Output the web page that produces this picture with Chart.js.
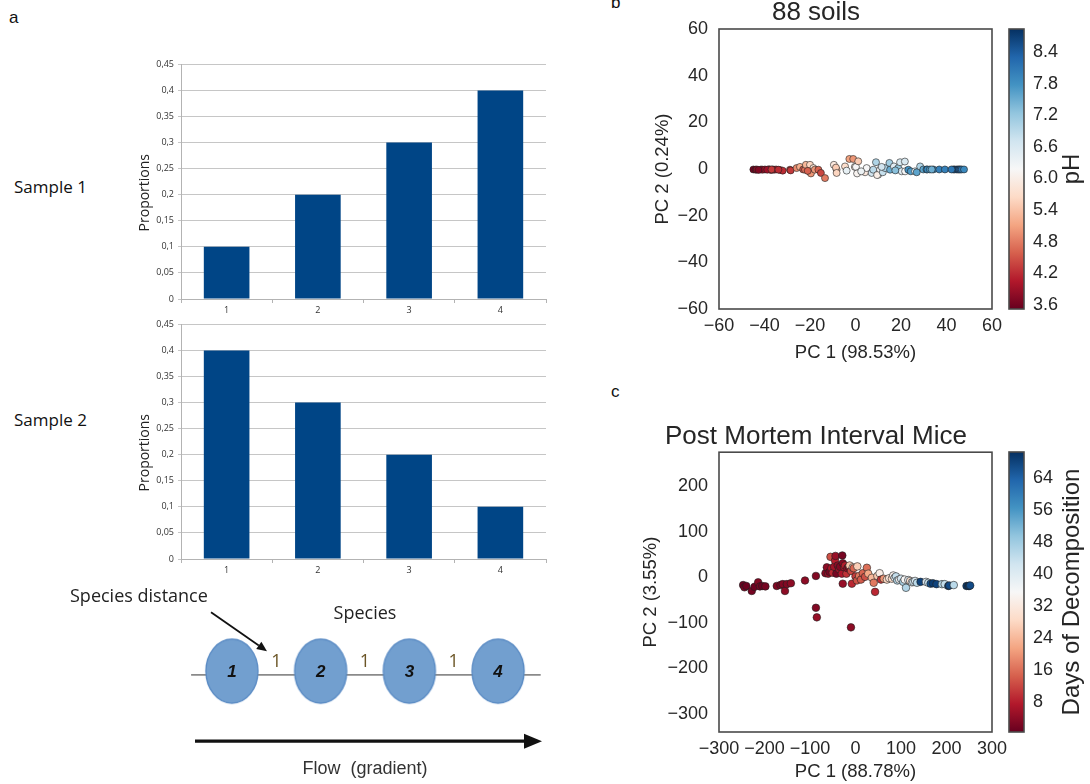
<!DOCTYPE html>
<html><head><meta charset="utf-8">
<script src="https://cdn.jsdelivr.net/npm/chart.js"></script>
<style>
html,body{margin:0;padding:0;background:#fff;}
body{width:1090px;height:784px;position:relative;overflow:hidden;font-family:"Liberation Sans",Arial,sans-serif;}
canvas{position:absolute;}
.lbl{position:absolute;white-space:nowrap;color:#111;line-height:1;}
</style></head><body>
<div class="lbl" style="left:9px;top:9px;font-size:17px;">a</div>
<div class="lbl" style="left:611px;top:-6px;font-size:17px;">b</div>
<div class="lbl" style="left:611px;top:383px;font-size:17px;">c</div>
<div class="lbl" style="left:14px;top:178px;font-size:17px;font-family:'Open Sans',sans-serif;">Sample 1</div>
<div class="lbl" style="left:14px;top:411px;font-size:17px;font-family:'Open Sans',sans-serif;">Sample 2</div>

<canvas id="barA" style="left:100px;top:55px" width="455" height="262"></canvas>
<canvas id="barB" style="left:100px;top:315px" width="455" height="262"></canvas>
<canvas id="diag" style="left:60px;top:585px" width="500" height="199"></canvas>
<canvas id="soils" style="left:640px;top:-10px" width="370" height="375"></canvas>
<canvas id="soilsCb" style="left:1000px;top:0px" width="90" height="365"></canvas>
<canvas id="mice" style="left:640px;top:405px" width="375" height="379"></canvas>
<canvas id="miceCb" style="left:1000px;top:405px" width="90" height="379"></canvas>

<script>
// ---------------- DATA ----------------
const speciesLabels = ['1','2','3','4'];
const sample1 = [0.1, 0.2, 0.3, 0.4];
const sample2 = [0.4, 0.3, 0.2, 0.1];
const propTicks = [0,0.05,0.1,0.15,0.2,0.25,0.3,0.35,0.4,0.45];
const propTickLabels = ['0','0,05','0,1','0,15','0,2','0,25','0,3','0,35','0,4','0,45'];

const speciesNames = ['1','2','3','4'];
const speciesPos = [1,2,3,4];
const speciesDistances = [1,1,1];

const soilPC1 = [-44.9,-43.9,-43.4,-41.5,-40.8,-39.8,-38.0,-37.2,-36.4,-35.8,-34.9,-33.2,-32.0,-28.8,-28.5,-25.9,-24.4,-23.0,-22.2,-21.8,-20.4,-20.0,-19.6,-18.5,-17.9,-16.3,-15.2,-13.4,-9.5,-8.3,-8.6,-8.3,-4.6,-3.9,-2.7,-1.0,-0.3,0.2,0.7,1.2,4.2,4.9,7.1,7.8,9.0,10.0,10.8,9.5,12.0,13.0,14.9,15.2,16.9,18.8,19.6,20.3,21.8,21.7,23.2,24.3,26.2,26.9,28.4,29.8,31.2,31.6,32.7,34.2,36.8,39.3,43.0,43.6,44.5,45.1,45.6,46.1,46.7,47.7,-42.6,-38.8,-36.9,-33.9,-21.0,2.5,11.5,17.5,33.5,42.2];
const soilPC2 = [-0.2,-0.3,-0.2,-0.2,-0.3,-0.2,-0.1,-0.4,-0.2,-0.3,-0.2,-0.4,-0.7,-0.3,-0.6,0.4,0.9,-0.2,-0.3,1.8,-1.0,1.8,-1.9,0.4,-0.3,-0.3,-1.7,-3.9,1.8,-0.3,0.6,-1.7,1.1,-0.7,4.3,4.3,0.9,0.9,-1.9,3.3,-1.4,0.4,-1.7,-0.3,2.9,-2.4,-0.3,-2.6,-1.4,0.4,2.6,-0.3,1.1,0.4,2.9,-1.0,-1.0,3.2,-0.3,-1.0,-1.0,-1.4,1.1,-0.2,-0.2,-0.2,-0.2,-0.2,-0.2,-0.2,-0.2,-0.2,-0.2,-0.2,-0.2,-0.2,-0.2,-0.2,-0.4,-0.3,-0.2,-0.3,-0.8,-1.0,0.9,-0.6,-0.2,-0.2];
const soilPH = [3.6,3.7,3.8,3.9,4.0,3.9,4.1,3.8,4.2,4.0,4.1,4.3,4.2,4.4,4.3,4.9,5.2,4.5,4.7,5.3,5.1,5.6,5.0,5.8,5.0,4.6,4.4,4.8,5.9,5.3,5.5,5.6,5.7,6.4,5.1,5.0,5.9,6.2,6.1,5.5,5.9,6.2,6.7,6.9,7.0,6.4,6.2,6.0,6.8,7.0,7.1,7.5,6.5,7.2,6.6,6.5,6.2,6.6,7.8,7.7,6.4,7.6,7.0,7.6,7.8,7.9,7.7,7.9,8.0,8.0,8.4,8.6,8.3,8.5,8.2,8.3,8.1,7.9,3.7,3.9,4.3,4.2,4.6,6.3,6.7,7.3,7.5,8.1];
const soilXTicks = [-60,-40,-20,0,20,40,60];
const soilYTicks = [-60,-40,-20,0,20,40,60];
const phTicks = [3.6,4.2,4.8,5.4,6.0,6.6,7.2,7.8,8.4];
const phMin = 3.52, phMax = 8.84;

const micePC1 = [-247,-244,-240,-228,-222,-214,-210,-205,-198,-173,-165,-160,-155,-151,-142,-111,-87,-87,-85,-10,-66,-63,-60,-57,-55,-53,-50,-47,-45,-44,-42,-39,-36,-34,-30,-29,-28,-28,-25,-23,-20,-18,-15,-13,-10,-8,-6,-4,0,3,4,8,12,16,21,25,28,36,40,43,48,53,56,62,69,74,80,83,86,89,92,96,100,105,108,111,116,120,124,127,131,135,143,155,160,165,170,178,190,196,204,206,216,244,248,250,252];
const micePC2 = [-17,-22,-19,-30,-21,-11,-20,-19,-20,-19,-17,-15,-30,-15,-13,-7,3,-67,-88,-110,9,22,8,12,45,20,10,23,37,47,8,26,18,23,8,48,31,-14,22,26,8,20,23,26,14,-14,22,20,2,-7,24,3,-5,9,1,21,8,-1,-12,-32,3,9,-5,-3,-5,-2,-3,4,-1,2,-7,-5,-3,-10,-5,-23,-6,-8,-11,-10,-8,-12,-10,-10,-12,-14,-13,-15,-15,-15,-19,-18,-17,-19,-19,-19,-18];
const miceDays = [1,2,1,2,1,3,2,1,2,3,2,3,4,3,4,4,3,3,5,4,3,4,5,2,13,7,9,6,8,5,2,4,6,3,7,2,3,5,6,8,10,5,4,26,12,9,30,15,11,13,27,17,14,15,13,16,22,24,17,9,26,33,10,20,28,31,29,34,38,44,46,36,42,47,35,46,40,30,38,43,41,45,68,40,44,66,69,68,46,44,70,67,45,69,70,68,67];
const miceXTicks = [-300,-200,-100,0,100,200,300];
const miceYTicks = [-300,-200,-100,0,100,200];
const dayTicks = [8,16,24,32,40,48,56,64];
const dayMin = 0.5, dayMax = 70.5;

// ---------------- HELPERS ----------------
const RDBU = ['#67001f','#b2182b','#d6604d','#f4a582','#fddbc7','#f7f7f7','#d1e5f0','#92c5de','#4393c3','#2166ac','#053061'];
function hex2rgb(h){return [parseInt(h.substr(1,2),16),parseInt(h.substr(3,2),16),parseInt(h.substr(5,2),16)];}
function rdbu(t){
  t=Math.max(0,Math.min(1,t));
  const p=t*(RDBU.length-1); const i=Math.min(Math.floor(p),RDBU.length-2); const f=p-i;
  const a=hex2rgb(RDBU[i]), b=hex2rgb(RDBU[i+1]);
  return 'rgb('+a.map((v,k)=>Math.round(v+(b[k]-v)*f)).join(',')+')';
}
function cmapGradient(chart){
  const a=chart.chartArea; if(!a) return '#ccc';
  const g=chart.ctx.createLinearGradient(0,a.bottom,0,a.top);
  RDBU.forEach((c,i)=>g.addColorStop(i/(RDBU.length-1),c));
  return g;
}
const minus = v => String(v).replace('-','\u2212');
const SANS = '"Liberation Sans", Arial, sans-serif';
const TXT = '#262626';

const framePlugin = {id:'frame', afterDraw(chart){
  const a=chart.chartArea, c=chart.ctx; c.save(); c.strokeStyle='#4a4a4a'; c.lineWidth=1.6;
  c.strokeRect(a.left,a.top,a.right-a.left,a.bottom-a.top); c.restore();
}};
function rotLabel(text, dx, font){ // rotated (bottom-to-top) label
  return {id:'rot'+text.replace(/\W/g,''), afterDraw(chart){
    const a=chart.chartArea,c=chart.ctx; c.save();
    c.translate(dx(a), (a.top+a.bottom)/2 + (font.dy||0)); c.rotate(-Math.PI/2);
    c.font=font.f; c.fillStyle=font.color||TXT; c.textAlign='center'; c.textBaseline='middle';
    c.fillText(text,0,0); c.restore();
  }};
}

// ---------------- BAR CHARTS ----------------
function barChart(id, values){
  new Chart(document.getElementById(id), {
    type:'bar',
    data:{labels:speciesLabels, datasets:[{data:values, backgroundColor:'#004586', borderWidth:0, barPercentage:0.5, categoryPercentage:1}]},
    options:{
      responsive:false, animation:false,
      layout:{padding:{top:8,right:9,left:0,bottom:0}},
      plugins:{legend:{display:false}, tooltip:{enabled:false}},
      scales:{
        x:{grid:{display:true, drawOnChartArea:false, drawTicks:true, tickLength:4, offset:true, color:'#b3b3b3'},
           border:{color:'#b3b3b3'},
           ticks:{font:{size:9, family:'"Open Sans", sans-serif'}, color:'#333', padding:2},
           afterFit(s){s.height=18;}},
        y:{min:0, max:0.45,
           afterBuildTicks(s){s.ticks=propTicks.map(v=>({value:v}));},
           grid:{color:'#c6c6c6', tickLength:3},
           border:{color:'#b3b3b3'},
           ticks:{font:{size:9, family:'"Open Sans", sans-serif'}, color:'#333', padding:4,
                  callback(v){const i=propTicks.findIndex(t=>Math.abs(t-v)<1e-9); return i>=0?propTickLabels[i]:'';}},
           afterFit(s){s.width=81;}}
      }
    },
    plugins:[rotLabel('Proportions', a=>a.left-36, {f:'14px "Open Sans", sans-serif', color:'#222', dy:11})]
  });
}
barChart('barA', sample1);
barChart('barB', sample2);

// ---------------- DIAGRAM ----------------
const ell=document.createElement('canvas'); ell.width=56; ell.height=68;
(function(){const c=ell.getContext('2d'); c.beginPath(); c.ellipse(28,34,26,32,0,0,Math.PI*2);
  c.fillStyle='#729fcf'; c.fill(); c.lineWidth=1.4; c.strokeStyle='#5a8bc4'; c.stroke();})();
function drawArrow(c,x1,y1,x2,y2,w,hl,hh,col){
  const a=Math.atan2(y2-y1,x2-x1), bx=x2-hl*Math.cos(a), by=y2-hl*Math.sin(a);
  c.strokeStyle=col; c.lineWidth=w; c.beginPath(); c.moveTo(x1,y1); c.lineTo(bx,by); c.stroke();
  c.fillStyle=col; c.beginPath(); c.moveTo(x2,y2);
  c.lineTo(bx+hh*Math.sin(a), by-hh*Math.cos(a)); c.lineTo(bx-hh*Math.sin(a), by+hh*Math.cos(a)); c.closePath(); c.fill();
}
const diagramPlugin = {id:'diagram', afterDatasetsDraw(chart){
  const c=chart.ctx, x=chart.scales.x, y=chart.scales.y, y0=y.getPixelForValue(0);
  c.save(); c.textAlign='center'; c.textBaseline='middle';
  c.font='italic bold 17px '+SANS; c.fillStyle='#111';
  speciesPos.forEach((p,i)=>c.fillText(speciesNames[i], x.getPixelForValue(p), y0+1));
  c.font='18px "Open Sans", sans-serif'; c.fillStyle='#6b5526';
  speciesDistances.forEach((d,i)=>c.fillText(String(d), x.getPixelForValue((speciesPos[i]+speciesPos[i+1])/2), y0-9));
  c.fillStyle='#222';
  c.fillText('Species', x.getPixelForValue(2.5), y0-57);
  c.textAlign='left';
  c.fillText('Species distance', 10, y0-74);
  drawArrow(c,151,y0-59,207,y0-20,1.8,10,4.5,'#111');
  drawArrow(c,135,y0+70,482,y0+70,3.2,18,7.5,'#111');
  c.textAlign='center'; c.fillStyle='#333'; c.font='18px '+SANS;
  c.fillText('Flow  (gradient)', x.getPixelForValue(2.5), y0+98);
  c.restore();
}};
new Chart(document.getElementById('diag'), {
  type:'scatter',
  data:{datasets:[
    {type:'scatter', order:0, data:speciesPos.map(p=>({x:p,y:0})), pointStyle:ell, pointRadius:5, backgroundColor:'#729fcf'},
    {type:'line', order:1, data:[{x:speciesPos[0]-0.46,y:-0.035},{x:speciesPos[speciesPos.length-1]+0.48,y:-0.035}], borderColor:'#8a8a8a', borderWidth:1.6, pointRadius:0}
  ]},
  options:{responsive:false, animation:false, layout:{padding:0},
    plugins:{legend:{display:false}, tooltip:{enabled:false}},
    scales:{x:{type:'linear', display:false, min:-0.87, max:4.63}, y:{display:false, min:-1, max:0.75}}},
  plugins:[diagramPlugin]
});

// ---------------- SCATTERS ----------------
function scatter(id, xs, ys, cs, cmin, cmax, xT, yT, xmin, xmax, ymin, ymax, title, xl, yl, titlePad, yTitlePad, xH, padR, r){
  new Chart(document.getElementById(id), {
    type:'scatter',
    data:{datasets:[{data:xs.map((x,i)=>({x, y:ys[i]})), backgroundColor:cs.map(v=>rdbu((v-cmin)/(cmax-cmin))),
      borderColor:'rgba(30,30,30,0.85)', borderWidth:0.7, pointRadius:r}]},
    options:{responsive:false, animation:false,
      layout:{padding:{left:0,right:padR,top:0,bottom:0}},
      plugins:{legend:{display:false}, tooltip:{enabled:false},
        title:{display:true, text:title, color:TXT, font:{size:26, family:SANS, weight:'normal'}, padding:titlePad}},
      scales:{
        x:{type:'linear', min:xmin, max:xmax, afterBuildTicks(s){s.ticks=xT.map(v=>({value:v}));},
           grid:{display:false, drawTicks:false}, border:{display:false},
           ticks:{autoSkip:false, maxRotation:0, font:{size:18, family:SANS}, color:TXT, padding:6, callback:minus},
           title:{display:true, text:xl, color:TXT, font:{size:18.5, family:SANS}, padding:{top:0,bottom:1}},
           afterFit(s){s.height=xH;}},
        y:{min:ymin, max:ymax, afterBuildTicks(s){s.ticks=yT.map(v=>({value:v}));},
           grid:{display:false, drawTicks:false}, border:{display:false},
           ticks:{autoSkip:false, font:{size:18, family:SANS}, color:TXT, padding:11, callback:minus},
           title:{display:true, text:yl, color:TXT, font:{size:18.5, family:SANS}, padding:{top:yTitlePad,bottom:0}},
           afterFit(s){s.width=79;}}
      }},
    plugins:[framePlugin]
  });
}
scatter('soils', soilPC1, soilPC2, soilPH, phMin, phMax, soilXTicks, soilYTicks, -60, 60, -60, 60,
  '88 soils', 'PC 1 (98.53%)', 'PC 2 (0.24%)', {top:7.4,bottom:0.4}, 11.4, 56, 18, 3.5);
scatter('mice', micePC1, micePC2, miceDays, dayMin, dayMax, miceXTicks, miceYTicks, -300, 300, -340, 275,
  'Post Mortem Interval Mice', 'PC 1 (88.78%)', 'PC 2 (3.55%)', {top:16,bottom:0}, 0, 52, 23, 3.8);

// ---------------- COLORBARS ----------------
function colorbar(id, cmin, cmax, ticks, fmt, padTop, padBottom, label){
  new Chart(document.getElementById(id), {
    type:'bar',
    data:{labels:[''], datasets:[{data:[[cmin,cmax]], backgroundColor:ctx=>cmapGradient(ctx.chart), borderWidth:0, barPercentage:1, categoryPercentage:1}]},
    options:{responsive:false, animation:false,
      layout:{padding:{left:9, right:0, top:padTop, bottom:padBottom}},
      plugins:{legend:{display:false}, tooltip:{enabled:false}},
      scales:{
        x:{display:false},
        y:{position:'right', min:cmin, max:cmax, afterBuildTicks(s){s.ticks=ticks.map(v=>({value:v}));},
           grid:{display:false, drawTicks:false}, border:{display:false},
           ticks:{autoSkip:false, font:{size:18, family:SANS}, color:TXT, padding:9, callback:fmt},
           afterFit(s){s.width=66;}}
      }},
    plugins:[framePlugin, rotLabel(label, a=>a.right+48, {f:'24px '+SANS})]
  });
}
colorbar('soilsCb', phMin, phMax, phTicks, v=>v.toFixed(1), 29, 56, 'pH');
colorbar('miceCb', dayMin, dayMax, dayTicks, v=>String(v), 47, 52, 'Days of Decomposition');
</script>
</body></html>
